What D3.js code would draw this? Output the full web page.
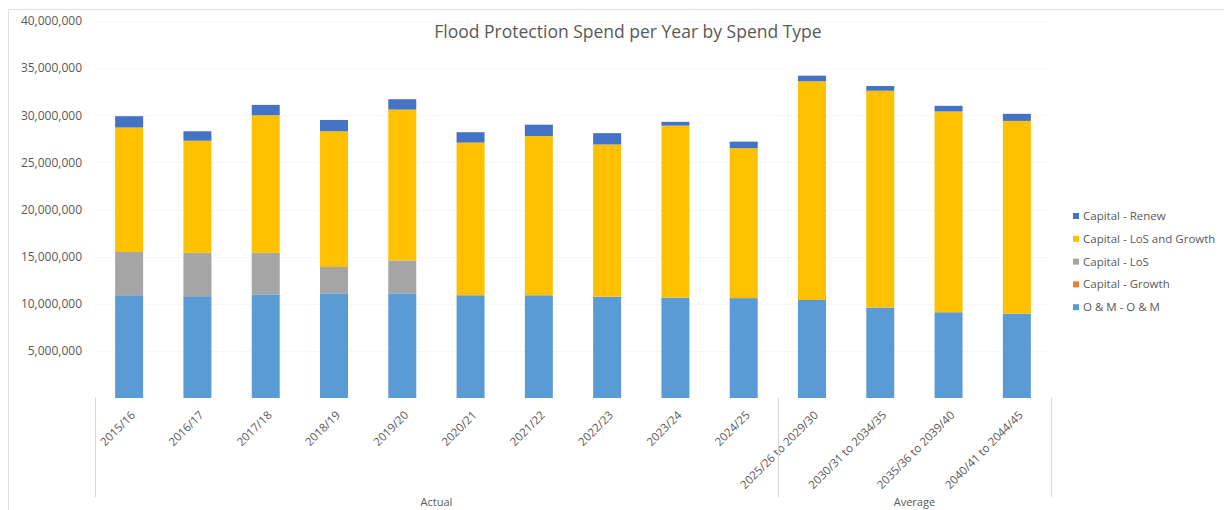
<!DOCTYPE html>
<html>
<head>
<meta charset="utf-8">
<script src="https://cdn.jsdelivr.net/npm/d3@7/dist/d3.min.js"></script>
<style>
  html, body { margin: 0; padding: 0; background: #ffffff; }
  svg { display: block; }
  text { font-family: "Open Sans", "Noto Sans", sans-serif; fill: #595959; }
</style>
</head>
<body>
<svg id="chart" width="1224" height="510"></svg>
<script>
// Financial years / averaged periods on the category axis
const categories = [
  "2015/16", "2016/17", "2017/18", "2018/19", "2019/20",
  "2020/21", "2021/22", "2022/23", "2023/24", "2024/25",
  "2025/26 to 2029/30", "2030/31 to 2034/35", "2035/36 to 2039/40", "2040/41 to 2044/45"
];

// Category groups shown beneath the axis labels
const groups = [
  { name: "Actual", count: 10 },
  { name: "Average", count: 4 }
];

// Spend per spend type (NZD)
const omSpend = [10900000, 10800000, 11000000, 11100000, 11100000, 10900000, 10900000,
                 10750000, 10650000, 10600000, 10400000, 9600000, 9100000, 8950000];
const capitalGrowth = [0, 0, 0, 0, 0, 0, 0, 0, 0, 0, 0, 0, 0, 0];
const capitalLoS = [4600000, 4600000, 4400000, 2800000, 3500000, 0, 0, 0, 0, 0, 0, 0, 0, 0];
const capitalLoSGrowth = [13200000, 11900000, 14600000, 14400000, 16000000, 16200000, 16900000,
                          16150000, 18250000, 15900000, 23200000, 23000000, 21300000, 20450000];
const capitalRenew = [1200000, 1000000, 1100000, 1200000, 1100000, 1100000, 1200000,
                      1200000, 400000, 700000, 600000, 500000, 600000, 750000];

const yTicks = [5000000, 10000000, 15000000, 20000000, 25000000, 30000000, 35000000, 40000000];

// Stack order bottom -> top
const seriesDefs = [
  { key: "om", name: "O & M - O & M", values: omSpend, color: "#5B9BD5" },
  { key: "growth", name: "Capital - Growth", values: capitalGrowth, color: "#ED7D31" },
  { key: "los", name: "Capital - LoS", values: capitalLoS, color: "#A5A5A5" },
  { key: "losg", name: "Capital - LoS and Growth", values: capitalLoSGrowth, color: "#FFC000" },
  { key: "renew", name: "Capital - Renew", values: capitalRenew, color: "#4472C4" }
];

const rows = categories.map((c, i) => {
  const r = { category: c };
  seriesDefs.forEach(s => { r[s.key] = s.values[i]; });
  return r;
});

const svg = d3.select("#chart");

const plot = { left: 95, right: 1051, top: 21, bottom: 398 };

// Chart area frame
svg.append("line").attr("x1", 8).attr("x2", 1224).attr("y1", 9.5).attr("y2", 9.5)
  .attr("stroke", "#dedede");
svg.append("line").attr("x1", 8.5).attr("x2", 8.5).attr("y1", 9).attr("y2", 510)
  .attr("stroke", "#dedede");

const x = d3.scaleBand()
  .domain(categories)
  .range([plot.left, plot.right])
  .paddingInner(0.59)
  .paddingOuter(0.295);

const y = d3.scaleLinear()
  .domain([0, 40000000])
  .range([plot.bottom, plot.top]);

// Very faint horizontal gridlines
svg.append("g")
  .selectAll("line")
  .data(yTicks)
  .join("line")
  .attr("x1", plot.left).attr("x2", plot.right)
  .attr("y1", d => Math.round(y(d)) + 0.5).attr("y2", d => Math.round(y(d)) + 0.5)
  .attr("stroke", "#f7f7f7");

// Value axis
const yAxis = svg.append("g")
  .attr("transform", "translate(82,0)")
  .call(d3.axisLeft(y).tickValues(yTicks).tickSize(0).tickPadding(0)
    .tickFormat(d3.format(",")));
yAxis.select(".domain").remove();
yAxis.selectAll("text").attr("font-size", 12).attr("fill", "#666666")
  .style("font-family", "'Open Sans', sans-serif");

// Stacked bars
const stack = d3.stack().keys(seriesDefs.map(s => s.key));
const stacked = stack(rows);
const colorOf = Object.fromEntries(seriesDefs.map(s => [s.key, s.color]));

svg.append("g")
  .selectAll("g")
  .data(stacked)
  .join("g")
  .attr("fill", d => colorOf[d.key])
  .selectAll("rect")
  .data(d => d)
  .join("rect")
  .attr("x", d => x(d.data.category))
  .attr("width", x.bandwidth())
  .attr("y", d => y(d[1]))
  .attr("height", d => y(d[0]) - y(d[1]));

// Category axis with rotated labels
const xAxis = svg.append("g")
  .attr("transform", `translate(0,${plot.bottom})`)
  .call(d3.axisBottom(x).tickSize(0).tickPadding(0));
xAxis.select(".domain").remove();
xAxis.selectAll(".tick text")
  .attr("font-size", 11.5)
  .attr("fill", "#595959")
  .attr("text-anchor", "end")
  .attr("x", 0).attr("y", 0).attr("dy", "0.35em")
  .attr("transform", "translate(4,15) rotate(-45)");

// Group separators and group labels
const sepColor = "#d9d9d9";
let start = 0;
const sepG = svg.append("g");
const boundaries = [plot.left];
groups.forEach(g => {
  const x0 = plot.left + x.step() * start;
  const x1 = plot.left + x.step() * (start + g.count);
  boundaries.push(x1);
  sepG.append("text")
    .attr("x", (x0 + x1) / 2)
    .attr("y", 506)
    .attr("text-anchor", "middle")
    .attr("font-size", 11)
    .text(g.name);
  start += g.count;
});
sepG.selectAll("line")
  .data(boundaries)
  .join("line")
  .attr("x1", d => Math.round(d) + 0.5).attr("x2", d => Math.round(d) + 0.5)
  .attr("y1", plot.bottom).attr("y2", 497)
  .attr("stroke", sepColor);

// Title
svg.append("text")
  .attr("x", 628)
  .attr("y", 38)
  .attr("text-anchor", "middle")
  .attr("font-size", 17.5)
  .text("Flood Protection Spend per Year by Spend Type");

// Legend (top of stack listed first)
const legendItems = seriesDefs.slice().reverse();
const legend = svg.append("g")
  .selectAll("g")
  .data(legendItems)
  .join("g")
  .attr("transform", (d, i) => `translate(1073,${216 + i * 22.8})`);
legend.append("rect")
  .attr("x", 0).attr("y", -3).attr("width", 6).attr("height", 6)
  .attr("fill", d => d.color);
legend.append("text")
  .attr("x", 10).attr("y", 0).attr("dy", "0.35em")
  .attr("font-size", 11.5)
  .text(d => d.name);
</script>
</body>
</html>
